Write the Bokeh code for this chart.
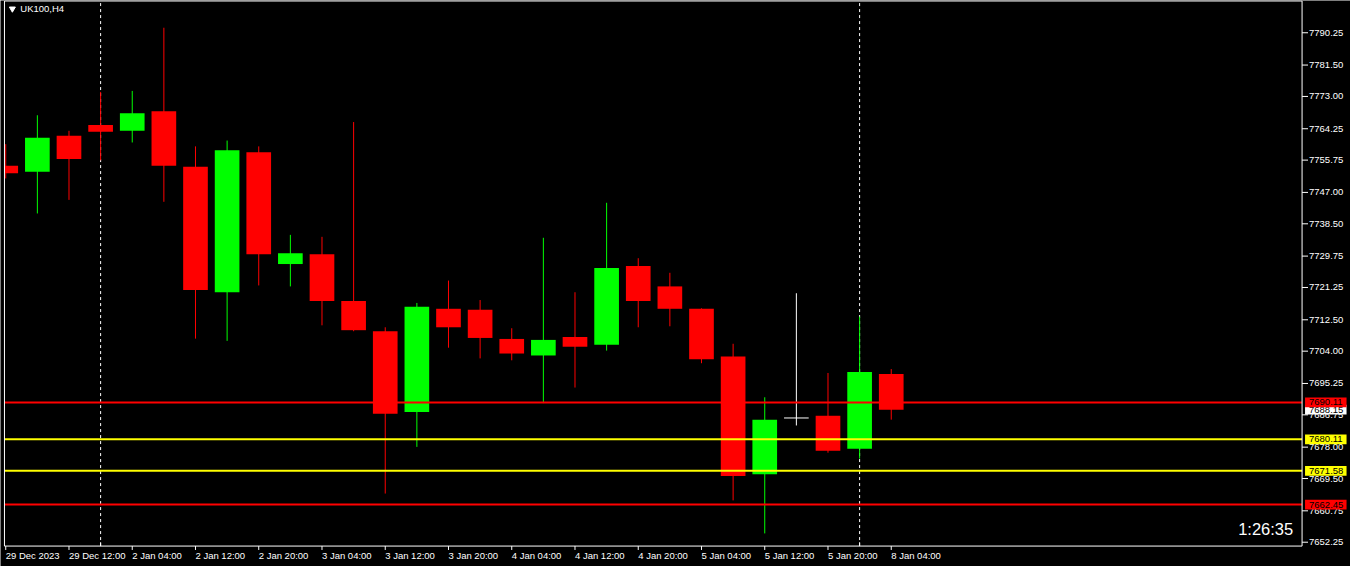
from bokeh.plotting import figure
from bokeh.models import Range1d
from bokeh.core.properties import value
from bokeh.embed import file_html
from bokeh.resources import INLINE

symbol = "UK100,H4"
timer = "1:26:35"

opens = [7754.20, 7752.62, 7762.37, 7765.27, 7763.69, 7768.96, 7753.94, 7719.96, 7757.89, 7727.60,
         7730.23, 7717.59, 7709.42, 7687.55, 7715.48, 7715.22, 7707.31, 7702.83, 7707.84, 7705.73,
         7727.07, 7721.54, 7715.48, 7702.57, 7670.69, 7685.90, 7686.50, 7677.54, 7697.83]
highs = [7760.08, 7767.90, 7763.69, 7774.23, 7774.49, 7791.61, 7759.47, 7761.05, 7759.47, 7735.50,
         7734.97, 7766.06, 7710.47, 7717.06, 7723.12, 7717.85, 7710.21, 7734.71, 7719.96, 7744.19,
         7729.18, 7725.23, 7715.60, 7706.00, 7691.51, 7719.69, 7698.09, 7713.37, 7699.15]
lows = [7750.78, 7741.30, 7744.98, 7755.71, 7760.53, 7744.46, 7707.39, 7706.79, 7721.80, 7721.54,
        7711.00, 7709.40, 7665.43, 7678.07, 7704.94, 7702.04, 7701.52, 7689.93, 7694.14, 7704.15,
        7710.47, 7710.74, 7700.73, 7663.58, 7654.63, 7683.87, 7676.49, 7674.91, 7685.45]
closes = [7752.18, 7761.84, 7756.05, 7763.42, 7768.43, 7754.20, 7720.56, 7758.42, 7730.23, 7730.49,
          7717.59, 7709.68, 7687.03, 7716.01, 7710.47, 7707.58, 7703.36, 7707.05, 7705.20, 7726.54,
          7717.59, 7715.48, 7701.78, 7670.17, 7685.45, 7685.90, 7677.02, 7698.36, 7688.15]

x_labels = ["29 Dec 2023", "29 Dec 12:00", "2 Jan 04:00", "2 Jan 12:00", "2 Jan 20:00",
            "3 Jan 04:00", "3 Jan 12:00", "3 Jan 20:00", "4 Jan 04:00", "4 Jan 12:00",
            "4 Jan 20:00", "5 Jan 04:00", "5 Jan 12:00", "5 Jan 20:00", "8 Jan 04:00"]
x_label_bars = [0, 2, 4, 6, 8, 10, 12, 14, 16, 18, 20, 22, 24, 26, 28]
separator_bars = [3, 27]

level_prices = [7690.11, 7680.11, 7671.58, 7662.45]
level_colors = ["#ff0000", "#ffff00", "#ffff00", "#ff0000"]
bid_price = 7688.15

y_ticks = [7790.25, 7781.50, 7773.00, 7764.25, 7755.75, 7747.00, 7738.50, 7729.75, 7721.25,
           7712.50, 7704.00, 7695.25, 7686.75, 7678.00, 7669.50, 7660.75, 7652.25]

BULL, BEAR, DOJI = "#00ff00", "#ff0000", "#ffffff"
FONT = value("Liberation Sans")
BODY_W = 0.78

# --- layout helpers: convert a position on the original 1366x582 screen into data units
def dx(px):
    return (px - 5.3) / 32.0

def dy(py):
    return 7690.11 - (py - 413.3) / 3.796

FL, FR = dx(4), dx(1317)          # chart frame left / right
FT, FB = dy(0.5), dy(561)         # chart frame top / bottom

p = figure(width=1350, height=566, x_range=Range1d(dx(0), dx(1366)),
           y_range=Range1d(dy(582), dy(0)),
           output_backend="svg", toolbar_location=None,
           x_axis_location=None, y_axis_location=None,
           background_fill_color="black", border_fill_color="black",
           outline_line_color=None,
           min_border_left=0, min_border_top=0, min_border_right=0, min_border_bottom=0)
p.grid.visible = False

# separators (period)
p.segment(x0=separator_bars, y0=[FB] * len(separator_bars), x1=separator_bars,
          y1=[FT] * len(separator_bars), line_color="white", line_dash="3 3", line_width=1)

# candles
xs = list(range(len(opens)))
colors = [BULL if c > o else (BEAR if c < o else DOJI) for o, c in zip(opens, closes)]
p.segment(x0=xs, y0=lows, x1=xs, y1=highs, line_color=colors, line_width=1)
body = [i for i in xs if opens[i] != closes[i]]
p.quad(left=[max(xs[i] - BODY_W / 2, FL) for i in body],
       right=[xs[i] + BODY_W / 2 for i in body],
       top=[max(opens[i], closes[i]) for i in body],
       bottom=[min(opens[i], closes[i]) for i in body],
       fill_color=[colors[i] for i in body], line_color=None)
doji = [i for i in xs if opens[i] == closes[i]]
if doji:
    p.segment(x0=[xs[i] - BODY_W / 2 for i in doji], y0=[opens[i] for i in doji],
              x1=[xs[i] + BODY_W / 2 for i in doji], y1=[opens[i] for i in doji],
              line_color=DOJI, line_width=1)

# horizontal levels
p.segment(x0=[FL] * len(level_prices), y0=level_prices, x1=[FR] * len(level_prices),
          y1=level_prices, line_color=level_colors, line_width=2)

# frame
p.segment(x0=[FL, FR, FL, FL], y0=[FB, FB, FB, FT], x1=[FL, FR, FR, FR], y1=[FT, FT, FB, FT],
          line_color="white", line_width=1)

# price axis (right)
p.segment(x0=[FR] * len(y_ticks), y0=y_ticks, x1=[dx(1323)] * len(y_ticks), y1=y_ticks,
          line_color="white", line_width=1)
p.text(x=[dx(1324)] * len(y_ticks), y=y_ticks, text=["%.2f" % t for t in y_ticks],
       text_color="white", text_font=FONT, text_font_size=value("9.5px"),
       text_align="left", text_baseline="middle")

# time axis (bottom)
p.segment(x0=x_label_bars, y0=[FB] * len(x_label_bars), x1=x_label_bars,
          y1=[dy(565)] * len(x_label_bars), line_color="white", line_width=1)
p.segment(x0=separator_bars, y0=[FB] * len(separator_bars), x1=separator_bars,
          y1=[dy(557)] * len(separator_bars), line_color="white", line_width=1)
p.text(x=x_label_bars, y=[dy(565)] * len(x_label_bars), text=x_labels,
       text_color="white", text_font=FONT, text_font_size=value("9.5px"),
       text_align="left", text_baseline="top")

# price tags on the axis
tag_prices = [bid_price] + level_prices
tag_colors = ["#ffffff"] + level_colors
half = 5.0 / 3.796
for tp, tc in zip(tag_prices, tag_colors):
    p.quad(left=[dx(1320)], right=[dx(1362)], top=[tp + half], bottom=[tp - half],
           fill_color=tc, line_color=None)
    p.text(x=[dx(1324)], y=[tp], text=["%.2f" % tp], text_color="black", text_font=FONT,
           text_font_size=value("9.5px"), text_align="left", text_baseline="middle")

# symbol label
p.scatter([dx(12)], [dy(8.5)], marker="inverted_triangle", size=6, fill_color="white",
          line_color="white")
p.text(x=[dx(20)], y=[dy(8.5)], text=[symbol], text_color="white", text_font=FONT,
       text_font_size=value("9.5px"), text_align="left", text_baseline="middle")

# timer
p.text(x=[dx(1308)], y=[dy(543)], text=[timer], text_color="white", text_font=FONT,
       text_font_size=value("16.5px"), text_align="right", text_baseline="middle")

open("out.html", "w").write(file_html(p, INLINE))
